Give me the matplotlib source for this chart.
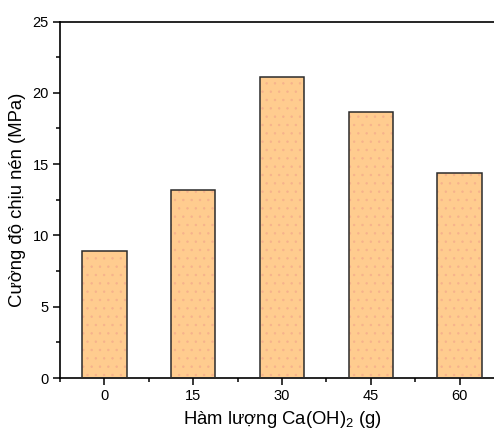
import matplotlib
matplotlib.use("Agg")
import matplotlib.pyplot as plt
from matplotlib.ticker import MultipleLocator, FixedLocator

categories = ["0", "15", "30", "45", "60"]
strength = [8.92, 13.21, 21.10, 18.68, 14.40]
yticks = [0, 5, 10, 15, 20, 25]

plt.rcParams['font.family'] = ['Liberation Sans', 'DejaVu Sans']
plt.rcParams['mathtext.fontset'] = 'custom'
plt.rcParams['mathtext.rm'] = 'Liberation Sans'
plt.rcParams['mathtext.it'] = 'Liberation Sans:italic'
plt.rcParams['hatch.linewidth'] = 0.5

fig = plt.figure(figsize=(4.94, 4.34), dpi=100)
ax = fig.add_axes([60/494, (434-378)/434, 444/494, (378-21.5)/434])

x = list(range(len(categories)))
ax.bar(x, strength, width=0.5, color='#FFCC8F', edgecolor='#F6B28C',
       linewidth=0, hatch='..', zorder=2)
ax.bar(x, strength, width=0.5, fill=False, edgecolor='#2b2b2b',
       linewidth=1.1, zorder=3)

ax.set_xlim(-0.5, 4.5)
ax.set_ylim(0, 25)
ax.set_xticks(x)
ax.set_xticklabels(categories)
ax.xaxis.set_minor_locator(FixedLocator([i + 0.5 for i in range(-1, 5)]))
ax.set_yticks(yticks)
ax.yaxis.set_minor_locator(MultipleLocator(2.5))

for s in ax.spines.values():
    s.set_linewidth(1.2)
ax.tick_params(axis='both', which='major', direction='out', length=5, width=1.1,
               labelsize=10.5, pad=3)
ax.tick_params(axis='both', which='minor', direction='out', length=3, width=1.1)

ax.set_ylabel('Cường độ chịu nén (MPa)', fontsize=13.3, labelpad=5)
ax.set_xlabel(r'Hàm lượng Ca(OH)$_2$ (g)', fontsize=13.3, labelpad=4)

fig.savefig('out.png', dpi=100)
